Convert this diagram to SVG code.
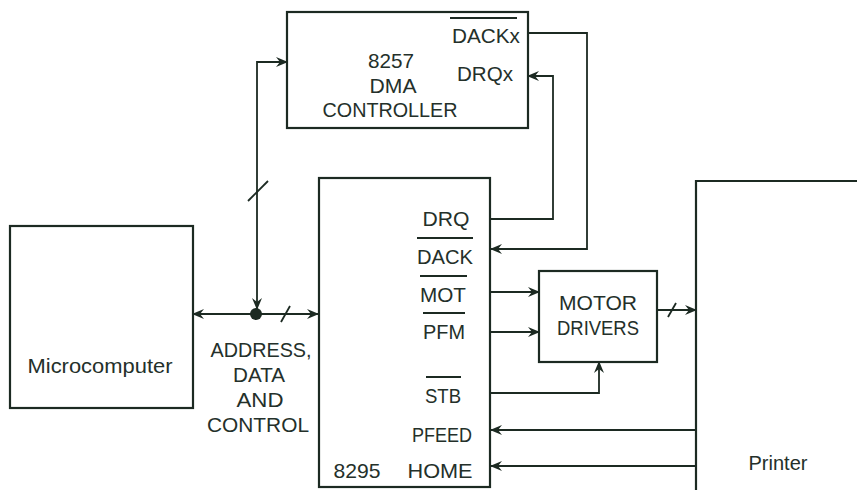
<svg xmlns="http://www.w3.org/2000/svg" width="857" height="490" viewBox="0 0 857 490">
<defs>
<marker id="arr" viewBox="0 0 12 10" refX="11" refY="5" markerWidth="12" markerHeight="10" markerUnits="userSpaceOnUse" orient="auto-start-reverse">
<path d="M0,0 L12,5 L0,10 L4,5 z" fill="#1c2a22"/>
</marker>
<style>
.box{fill:#fff;stroke:#1c2a22;stroke-width:2.2}
.ln{fill:none;stroke:#1c2a22;stroke-width:1.8}
.t{font-family:"Liberation Sans","Open Sans",sans-serif;font-size:21px;fill:#24302a}
.m{text-anchor:middle}
.ov{stroke:#1c2a22;stroke-width:1.8}
</style>
</defs>
<rect width="857" height="490" fill="#fff"/>

<g id="microcomputer">
<rect class="box" x="10" y="226" width="183" height="182"/>
<text class="t m" x="100" y="373" textLength="145" lengthAdjust="spacingAndGlyphs">Microcomputer</text>
</g>

<g id="dma">
<rect class="box" x="287" y="12" width="241" height="116"/>
<text class="t m" x="391" y="68" textLength="46" lengthAdjust="spacingAndGlyphs">8257</text>
<text class="t m" x="393" y="93" textLength="47" lengthAdjust="spacingAndGlyphs">DMA</text>
<text class="t m" x="390" y="117" textLength="135" lengthAdjust="spacingAndGlyphs">CONTROLLER</text>
<line class="ov" x1="450" y1="18" x2="517" y2="18"/>
<text class="t m" x="486" y="43" textLength="68" lengthAdjust="spacingAndGlyphs">DACKx</text>
<text class="t m" x="485" y="81" textLength="56" lengthAdjust="spacingAndGlyphs">DRQx</text>
</g>

<g id="i8295">
<rect class="box" x="319" y="178" width="171" height="309"/>
<text class="t m" x="446" y="226" textLength="47" lengthAdjust="spacingAndGlyphs">DRQ</text>
<line class="ov" x1="417" y1="238" x2="473" y2="238"/>
<text class="t m" x="445" y="264" textLength="56" lengthAdjust="spacingAndGlyphs">DACK</text>
<line class="ov" x1="420" y1="276" x2="467" y2="276"/>
<text class="t m" x="443" y="302" textLength="46" lengthAdjust="spacingAndGlyphs">MOT</text>
<line class="ov" x1="423" y1="313" x2="465" y2="313"/>
<text class="t m" x="444" y="339" textLength="42" lengthAdjust="spacingAndGlyphs">PFM</text>
<line class="ov" x1="426" y1="377" x2="461" y2="377"/>
<text class="t m" x="443" y="403" textLength="36" lengthAdjust="spacingAndGlyphs">STB</text>
<text class="t m" x="442" y="442" textLength="60" lengthAdjust="spacingAndGlyphs">PFEED</text>
<text class="t m" x="440" y="478" textLength="65" lengthAdjust="spacingAndGlyphs">HOME</text>
<text class="t m" x="357" y="478" textLength="47" lengthAdjust="spacingAndGlyphs">8295</text>
</g>

<g id="motor">
<rect class="box" x="539" y="271" width="118" height="91"/>
<text class="t m" x="598" y="310" textLength="78" lengthAdjust="spacingAndGlyphs">MOTOR</text>
<text class="t m" x="598" y="335" textLength="82" lengthAdjust="spacingAndGlyphs">DRIVERS</text>
</g>

<g id="printer">
<path class="box" d="M857,181 H696 V490" fill="none"/>
<text class="t m" x="778" y="470" textLength="59" lengthAdjust="spacingAndGlyphs">Printer</text>
</g>

<g id="bus-label">
<text class="t m" x="261" y="357" textLength="101" lengthAdjust="spacingAndGlyphs">ADDRESS,</text>
<text class="t m" x="259" y="382" textLength="52" lengthAdjust="spacingAndGlyphs">DATA</text>
<text class="t m" x="260" y="407" textLength="47" lengthAdjust="spacingAndGlyphs">AND</text>
<text class="t m" x="258" y="432" textLength="102" lengthAdjust="spacingAndGlyphs">CONTROL</text>
</g>

<g id="connectors">
<path class="ln" d="M528,33 H587 V249 H491" marker-end="url(#arr)"/>
<path class="ln" d="M491,219 H553 V76 H528" marker-end="url(#arr)"/>
<path class="ln" d="M193,314 H318" marker-start="url(#arr)" marker-end="url(#arr)"/>
<path class="ln" d="M257,309 V62 H287" marker-start="url(#arr)" marker-end="url(#arr)"/>
<circle cx="256" cy="314" r="6" fill="#1c2a22"/>
<line class="ln" x1="248" y1="201" x2="268" y2="181"/>
<line class="ln" x1="281" y1="322" x2="290" y2="306"/>
<path class="ln" d="M491,292 H539" marker-end="url(#arr)"/>
<path class="ln" d="M491,332 H539" marker-end="url(#arr)"/>
<path class="ln" d="M491,393 H599 V362" marker-end="url(#arr)"/>
<path class="ln" d="M657,310 H696" marker-end="url(#arr)"/>
<line class="ln" x1="668" y1="317" x2="676" y2="303"/>
<path class="ln" d="M696,430 H491" marker-end="url(#arr)"/>
<path class="ln" d="M696,466 H491" marker-end="url(#arr)"/>
</g>
</svg>
